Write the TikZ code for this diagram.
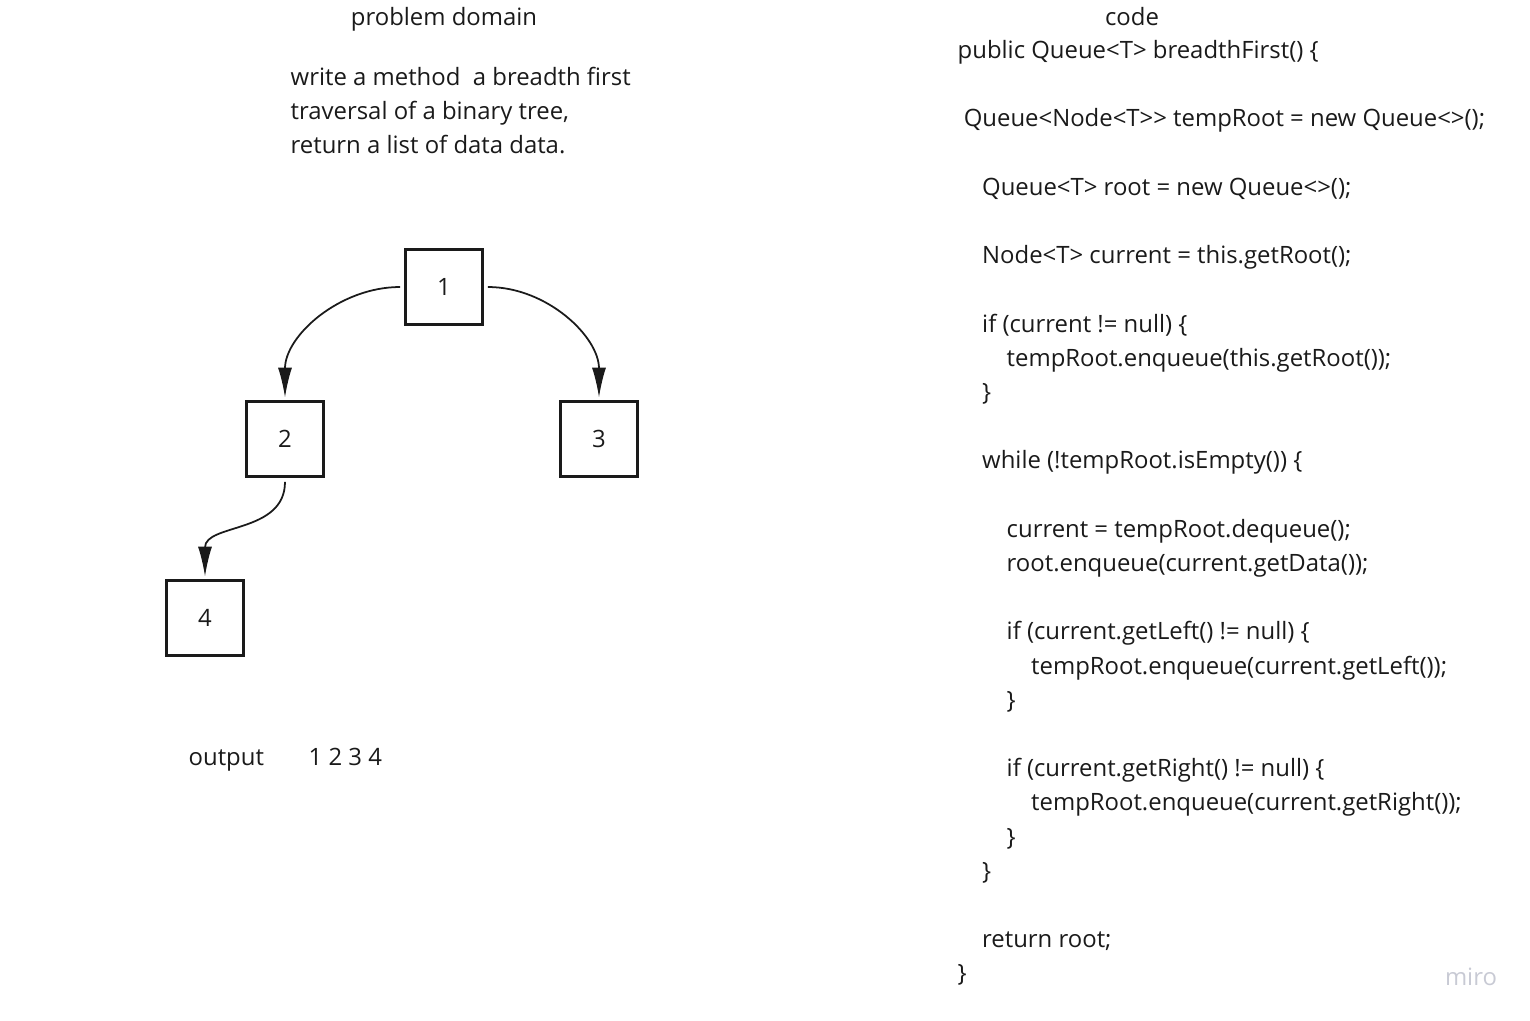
\documentclass[tikz,border=0pt]{standalone}
\usepackage{fontspec}
\setmainfont{Open Sans}
\usetikzlibrary{arrows.meta,positioning}
\definecolor{ink}{RGB}{26,26,26}
\definecolor{logo}{RGB}{200,202,212}
\tikzset{
  txt/.style={inner sep=0,anchor=base west,text=ink,font=\fontsize{6.8}{9.7}\selectfont},
  head/.style={txt,anchor=base},
  treebox/.style={draw=ink,line width=.95pt,minimum width=7.75mm,minimum height=7.55mm,inner sep=0,
    font=\fontsize{6.8}{9.7}\selectfont,text=ink},
  link/.style={->,draw=ink,line width=.5pt,shorten <=1pt,shorten >=.6pt}
}
\begin{document}
\begin{tikzpicture}[x=.1mm,y=-.1mm,>={Latex[length=8.5pt,width=4pt]}]
\useasboundingbox (0,0) rectangle (1530,1020);
% left: problem domain
\node[head] (pdhead) at (444,25.5) {problem domain};
\node[txt] (task1) at (290,85.5) {write a method\ \ a breadth first};
\node[txt] (task2) at (290,119.5) {traversal of a binary tree,};
\node[txt] (task3) at (290,153.5) {return a list of data data.};
% tree
\node[treebox] (n1) at (444,287) {1};
\node[treebox] (n2) at (285,439) {2};
\node[treebox] (n3) at (599,439) {3};
\node[treebox] (n4) at (205,618) {4};
\draw[link] (n1.west) to[out=180,in=90] (n2.north);
\draw[link] (n1.east) to[out=0,in=90] (n3.north);
\draw[link] (n2.south) to[out=-90,in=90,looseness=1.1] (n4.north);
\node[txt] (outlbl) at (188,765.5) {output};
\node[txt] (outval) at (308,765.5) {1 2 3 4};
% right: code
\node[head] (codehead) at (1132,25.5) {code};
\foreach \r/\lvl/\line in {
  0/0/{public Queue<T> breadthFirst() \{},
  2/.25/{Queue<Node<T>{}> tempRoot = new Queue<>();},
  4/1/{Queue<T> root = new Queue<>();},
  6/1/{Node<T> current = this.getRoot();},
  8/1/{if (current != null) \{},
  9/2/{tempRoot.enqueue(this.getRoot());},
  10/1/{\}},
  12/1/{while (!tempRoot.isEmpty()) \{},
  14/2/{current = tempRoot.dequeue();},
  15/2/{root.enqueue(current.getData());},
  17/2/{if (current.getLeft() != null) \{},
  18/3/{tempRoot.enqueue(current.getLeft());},
  19/2/{\}},
  21/2/{if (current.getRight() != null) \{},
  22/3/{tempRoot.enqueue(current.getRight());},
  23/2/{\}},
  24/1/{\}},
  26/1/{return root;},
  27/0/{\}}}
  \node[txt] (code-\r) at (957+24.5*\lvl,58.5+34.2*\r) {\line};
% watermark
\node[inner sep=0,text=logo,font=\fontsize{6.8}{8}\selectfont] (miro) at (1471,977) {miro};
\end{tikzpicture}
\end{document}
